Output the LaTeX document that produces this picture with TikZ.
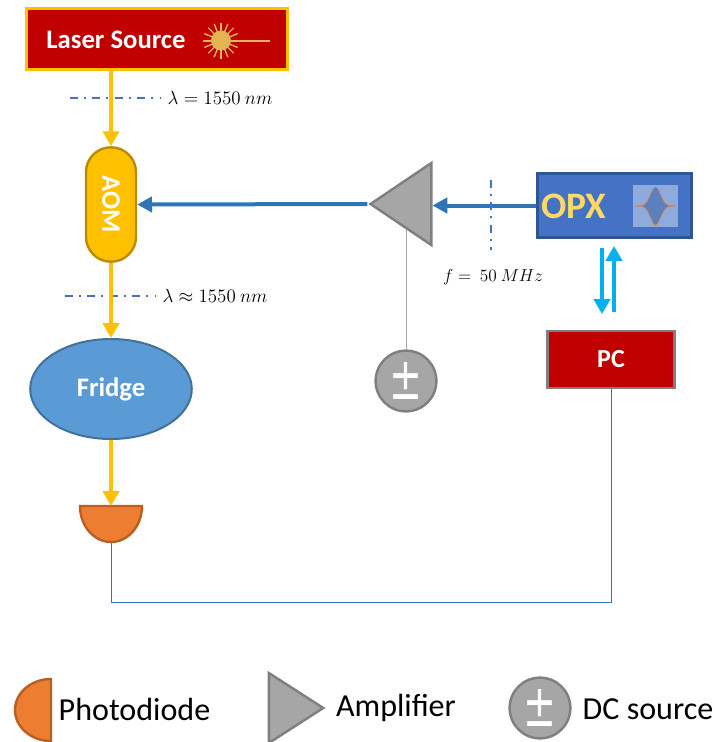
\documentclass[tikz,border=0pt]{standalone}
\usepackage{fix-cm}
\usepackage{graphicx}
\usepackage{fontspec}
\usepackage{xcolor}
\usepackage{tikz}
\usetikzlibrary{positioning}
\usetikzlibrary{shapes.geometric}
\usetikzlibrary{arrows.meta}
\setmainfont{Carlito}
\newfontfamily\symbfont{DejaVu Sans}
\definecolor{laserred}{HTML}{C00000}
\definecolor{beamyellow}{HTML}{FFC000}
\definecolor{aomedge}{HTML}{BC8C00}
\definecolor{fridgeblue}{HTML}{5B9BD5}
\definecolor{fridgeedge}{HTML}{41719C}
\definecolor{rfblue}{HTML}{2E75B6}
\definecolor{opxblue}{HTML}{4472C4}
\definecolor{opxedge}{HTML}{2F5597}
\definecolor{opxtext}{HTML}{FFD966}
\definecolor{insetblue}{HTML}{8FAADC}
\definecolor{pdorange}{HTML}{ED7D31}
\definecolor{pdedge}{HTML}{B85F22}
\definecolor{ampgray}{HTML}{A6A6A6}
\definecolor{ampedge}{HTML}{7F7F7F}
\definecolor{linkcyan}{HTML}{00B0F0}
\definecolor{starcolor}{HTML}{E2B552}
\definecolor{dashblue}{HTML}{4472C4}
\definecolor{wavefill}{HTML}{5A80BE}
\newcommand{\plusminus}{\scalebox{1}[1.5]{±}}

\begin{document}
\begin{tikzpicture}
  [
    x=0.25mm, y=-0.25mm,
    box/.style={
      draw,
      line width=0.6mm,
      inner sep=0mm,
      font=\bfseries\color{white}
    },
    laserbox/.style={box, fill=laserred, draw=beamyellow, minimum width=65.2mm, minimum height=15.2mm},
    opxbox/.style={box, fill=opxblue, draw=opxedge, minimum width=38.5mm, minimum height=16mm},
    pcbox/.style={box, fill=laserred, draw=ampedge, minimum width=31.8mm, minimum height=14.2mm},
    aombox/.style={box, fill=beamyellow, draw=aomedge, rounded corners=6.2mm, minimum width=28.6mm, minimum height=12.5mm, rotate=-90},
    fridgebox/.style={ellipse, draw=fridgeedge, line width=0.5mm, fill=fridgeblue, inner sep=0mm, minimum width=40.4mm, minimum height=25mm, font=\bfseries\color{white}},
    amp/.style={isosceles triangle, isosceles triangle stretches, draw=ampedge, line width=0.6mm, fill=ampgray, inner sep=0mm},
    dc/.style={circle, draw=ampedge, line width=0.6mm, fill=ampgray, inner sep=0mm, minimum size=15.2mm, text=white, font=\symbfont\fontsize{28}{28}\selectfont},
    diode/.style={draw=pdedge, line width=0.6mm, fill=pdorange},
    beam/.style={draw=beamyellow, line width=0.95mm, -{Triangle[length=3.7mm,width=4mm]}},
    rf/.style={draw=rfblue, line width=1mm, -{Triangle[length=3.7mm,width=3.8mm]}},
    link/.style={draw=linkcyan, line width=0.95mm, -{Triangle[length=3.7mm,width=4mm]}},
    wire/.style={draw=rfblue, line width=0.25mm},
    cut/.style={draw=dashblue, line width=0.35mm, dash pattern=on 2mm off 1.5mm on 0.5mm off 1.6mm},
    lab/.style={font=\fontsize{13.5}{16}\selectfont},
    legend/.style={font=\fontsize{22.8}{26}\selectfont}
  ]
  \useasboundingbox (0,0) rectangle (715,742);

  \node (laser) at (157,39) [laserbox] {};
  \node (lasertext) at (116,39.5) [font=\bfseries\color{white}\fontsize{19}{22}\selectfont] {Laser Source};
  \draw [starcolor, line width=0.5mm] (203,40.5) -- (270,40.5);
  \foreach \a in {0,22.5,...,337.5}
    \draw [starcolor, line width=0.35mm] (221,40.5) -- ++(\a:18);
  \fill [starcolor] (221,40.5) circle (10);

  \node (aom) at (111,204.5) [aombox] {\fontsize{19}{22}\selectfont AOM};
  \node (fridge) at (111,389) [fridgebox] {\fontsize{19}{22}\selectfont\raisebox{-0.5mm}{Fridge}};
  \node (dc1) at (406,381) [dc] {\plusminus};
  \node (opx) at (614.5,205.5) [opxbox] {};
  \node (opxtext) at (574,206) [font=\bfseries\color{opxtext}\fontsize{26.6}{30}\selectfont] {OPX};
  \node (inset) at (655.5,206) [fill=insetblue, inner sep=0mm, minimum width=11.4mm, minimum height=10.6mm] {};
  \fill [wavefill] plot[domain=-20:20, samples=60] ({655.5+\x},{206-19*exp(-(\x*\x)/50)}) -- plot[domain=20:-20, samples=60] ({655.5+\x},{206+19*exp(-(\x*\x)/50)}) -- cycle;
  \draw [pdorange, line width=0.15mm] plot[domain=-20:20, samples=60] ({655.5+\x},{206-19*exp(-(\x*\x)/50)});
  \draw [pdorange, line width=0.15mm] plot[domain=-20:20, samples=60] ({655.5+\x},{206+19*exp(-(\x*\x)/50)});
  \node (pc) at (611,359.5) [pcbox] {\fontsize{18.5}{22}\selectfont\raisebox{-0.4mm}{PC}};

  \coordinate (pdtop) at (111,506);
  \coordinate (pdbottom) at (111,542);
  \draw [diode] (80,506) -- (142,506) arc (0:180:31 and 36) -- cycle;

  \coordinate (cut1a) at (70,98);
  \coordinate (cut1b) at (160,98);
  \coordinate (cut2a) at (65,296);
  \coordinate (cut2b) at (155,296);
  \draw [cut] (cut1a) -- (cut1b);
  \draw [cut] (cut2a) -- (cut2b);

  \draw [beam] (laser.south -| aom.west) -- (aom.west);
  \draw [beam] (aom.east) -- (fridge.north);
  \draw [beam] (fridge.south) -- (pdtop);

  \draw [ampedge!70, line width=0.25mm] (dc1.north) -- (dc1.north |- 0,228);
  \node (amp1) at (409.5,204) [amp, shape border rotate=180, minimum height=15.2mm, minimum width=20.5mm] {};
  \draw [rf] (opx.west) -- (amp1.east |- opx.west);
  \draw [rf] (amp1.apex) -- (aom.north);

  \coordinate (opxdown) at (602,248);
  \coordinate (opxup) at (614,246);
  \coordinate (pcdown) at (602,314);
  \coordinate (pcup) at (614,312);
  \draw [link] (opxdown) -- (pcdown);
  \draw [link] (pcup) -- (opxup);

  \draw [wire] (pc.south) |- (111,602) -- (pdbottom);

  \coordinate (cut3a) at (491,180);
  \coordinate (cut3b) at (491,250);
  \draw [cut] (cut3a) -- (cut3b);
  \node (lab1) at (220,98) [lab] {$\lambda = 1550\ nm$};
  \node (lab2) at (215,296) [lab] {$\lambda \approx 1550\ nm$};
  \node (lab3) at (493,277) [font=\fontsize{12.3}{15}\selectfont] {$f =\ 50\ MHz$};

  % legend
  \draw [diode] (51,679) -- (51,741) arc (90:270:36 and 31) -- cycle;
  \node (leg1) at (134.5,709) [legend] {Photodiode};
  \node (amp2) at (288,708) [amp, minimum height=13.6mm, minimum width=17.5mm] {};
  \node (leg2) at (396,708) [legend] {Amplifier};
  \node (dc2) at (540,708) [dc] {\plusminus};
  \node (leg3) at (648,709) [legend] {DC source};
\end{tikzpicture}
\end{document}
